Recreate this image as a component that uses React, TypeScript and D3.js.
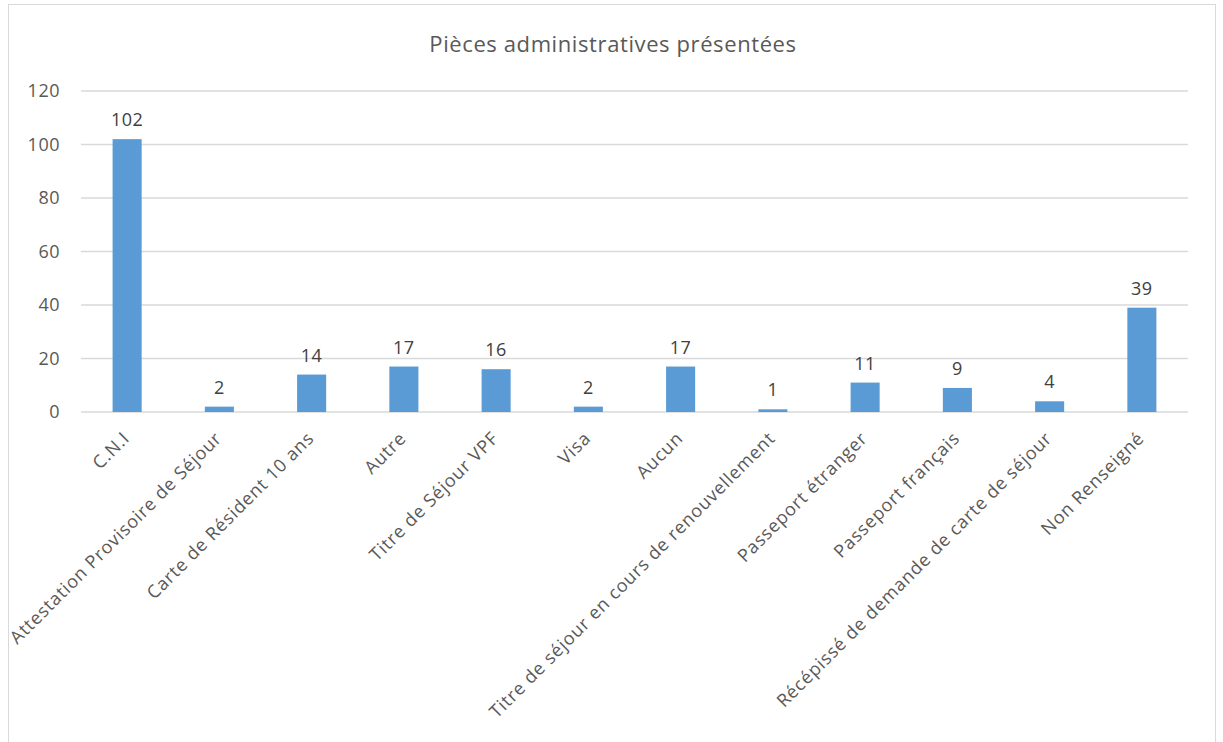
import React from "react";
import * as d3 from "d3";

const categories = [
  "C.N.I",
  "Attestation Provisoire de Séjour",
  "Carte de Résident 10 ans",
  "Autre",
  "Titre de Séjour VPF",
  "Visa",
  "Aucun",
  "Titre de séjour en cours de renouvellement",
  "Passeport étranger",
  "Passeport français",
  "Récépissé de demande de carte de séjour",
  "Non Renseigné",
];
const values = [102, 2, 14, 17, 16, 2, 17, 1, 11, 9, 4, 39];
const yTicks = [0, 20, 40, 60, 80, 100, 120];
const title = "Pièces administratives présentées";

const W = 1223;
const H = 742;
const font = "'Open Sans', sans-serif";

export default function App() {
  const left = 81, right = 1188, top = 91, bottom = 412;
  const x = d3.scaleBand<string>().domain(categories).range([left, right]).paddingInner(0.685).paddingOuter(0.3425);
  const y = d3.scaleLinear().domain([0, 120]).range([bottom, top]);
  const bw = x.bandwidth();
  return (
    <svg width={W} height={H} style={{ position: "absolute", left: 0, top: 0, background: "#fff" }}>
      <rect x={8.5} y={4.5} width={1207} height={760} fill="#fff" stroke="#d9d9d9" strokeWidth={1} />
      <text x={613} y={52} textAnchor="middle" fontFamily={font} fontSize={22} letterSpacing={0.6} fill="#595959">{title}</text>
      {yTicks.map((t) => (
        <g key={t}>
          <line x1={left} x2={right} y1={y(t)} y2={y(t)} stroke="#d9d9d9" strokeWidth={1.5} />
          <text x={60} y={y(t)} dy="0.35em" textAnchor="end" fontFamily={font} fontSize={18} letterSpacing={0.5} fill="#595959">{t}</text>
        </g>
      ))}
      {categories.map((c, i) => {
        const cx = (x(c) as number) + bw / 2;
        return (
          <g key={c}>
            <rect x={x(c)} y={y(values[i])} width={bw} height={bottom - y(values[i])} fill="#5b9bd5" />
            <text x={cx} y={y(values[i]) - 13} textAnchor="middle" fontFamily={font} fontSize={18} letterSpacing={0.5} fill="#404040">{values[i]}</text>
            <text transform={`translate(${cx - 1},${435}) rotate(-45)`} textAnchor="end" dy="0.35em" fontFamily={font} fontSize={18} letterSpacing={0.8} fill="#595959">{c}</text>
          </g>
        );
      })}
    </svg>
  );
}
